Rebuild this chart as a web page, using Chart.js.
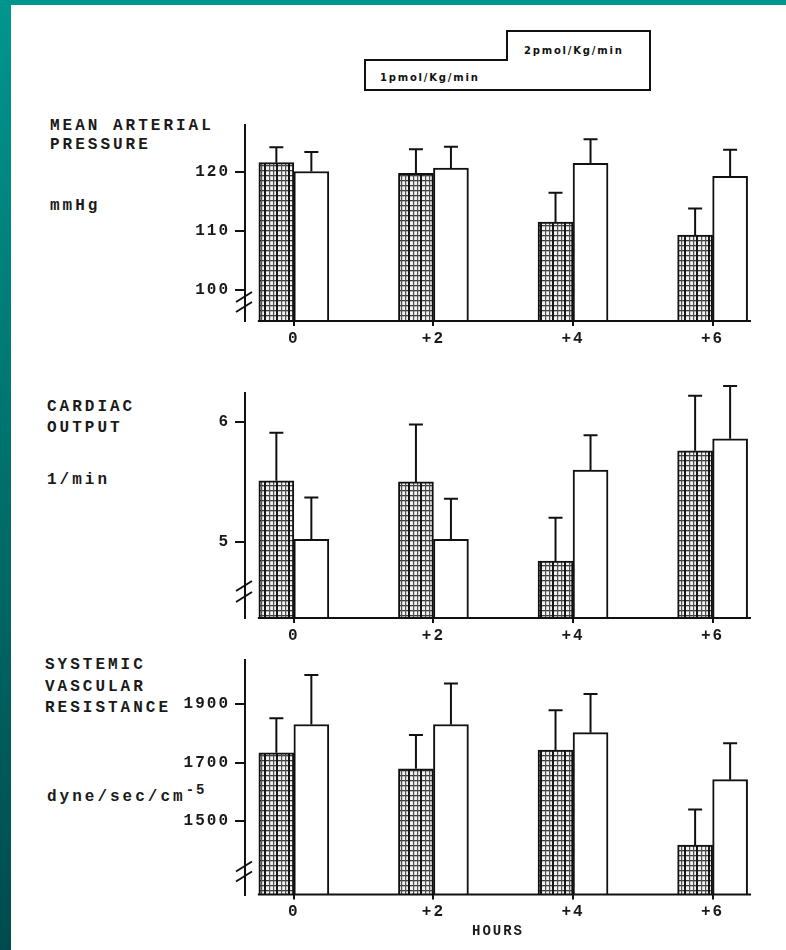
<!DOCTYPE html>
<html>
<head>
<meta charset="utf-8">
<script src="https://cdn.jsdelivr.net/npm/chart.js@4.4.1/dist/chart.umd.min.js"></script>
<style>
  body { margin: 0; width: 786px; height: 950px; overflow: hidden; }
  #bg { position: absolute; left: 0; top: 0; width: 786px; height: 950px;
        background: linear-gradient(180deg, #00968f 0%, #00706c 50%, #004b4d 100%); }
  #paper { position: absolute; left: 11px; top: 5px; width: 775px; height: 945px; background: #ffffff; }
  canvas { position: absolute; left: 0; }
  .lbl { position: absolute; font-family: "Liberation Mono", "DejaVu Sans Mono", monospace;
         font-size: 16px; font-weight: bold; letter-spacing: 3px; color: #1a1a1a; white-space: pre; }
  .lbl sup { font-size: 14px; vertical-align: 7px; line-height: 0; letter-spacing: 2px; }
</style>
</head>
<body>
<div id="bg"></div>
<div id="paper"></div>

<svg style="position:absolute;left:0;top:0" width="786" height="100">
  <path d="M365 60 H507 V31 H650 V90 H365 Z" fill="none" stroke="#111" stroke-width="2"/>
  <text id="leg1" x="380" y="81" font-family="DejaVu Sans" font-weight="bold" font-size="10" letter-spacing="1.8" fill="#111"></text>
  <text id="leg2" x="524" y="54" font-family="DejaVu Sans" font-weight="bold" font-size="10" letter-spacing="1.8" fill="#111"></text>
</svg>

<div class="lbl" style="left:50px;top:117px;line-height:19px">MEAN ARTERIAL
PRESSURE</div>
<div class="lbl" style="left:50px;top:196px;line-height:20px">mmHg</div>

<div class="lbl" style="left:47px;top:397px;line-height:21px">CARDIAC
OUTPUT</div>
<div class="lbl" style="left:47px;top:470px;line-height:20px">1/min</div>

<div class="lbl" style="left:45px;top:655px;line-height:21.5px">SYSTEMIC
VASCULAR
RESISTANCE</div>
<div class="lbl" style="left:47px;top:787px;line-height:20px">dyne/sec/cm<sup>-5</sup></div>

<canvas id="c1" width="786" height="260" style="top:100px"></canvas>
<canvas id="c2" width="786" height="280" style="top:365px"></canvas>
<canvas id="c3" width="786" height="305" style="top:645px"></canvas>

<script>
// ---------- data ----------
const hours = [0, 2, 4, 6];
const hourLabels = ['0', '+2', '+4', '+6'];
const hourRange = [-0.70, 6.55];
const seriesNames = ['1pmol/Kg/min', '2pmol/Kg/min'];
const xTitle = 'HOURS';

// Mean arterial pressure (mmHg)
const mapLow = [121.6, 119.8, 111.5, 109.3];
const mapLowErr = [2.6, 4.1, 5.0, 4.5];
const mapHigh = [120.1, 120.7, 121.5, 119.3];
const mapHighErr = [3.3, 3.6, 4.1, 4.5];
const mapTicks = [100, 110, 120];
const mapRange = [94.7, 128.0];

// Cardiac output (l/min)
const coLow = [5.51, 5.50, 4.84, 5.76];
const coLowErr = [0.40, 0.48, 0.36, 0.46];
const coHigh = [5.02, 5.02, 5.60, 5.86];
const coHighErr = [0.35, 0.34, 0.29, 0.44];
const coTicks = [5, 6];
const coRange = [4.364, 6.24];

// Systemic vascular resistance (dyne/sec/cm-5)
const svrLow = [1734, 1679, 1743, 1418];
const svrLowErr = [118, 116, 137, 122];
const svrHigh = [1831, 1831, 1803, 1642];
const svrHighErr = [169, 140, 132, 125];
const svrTicks = [1500, 1700, 1900];
const svrRange = [1249, 2053];

document.getElementById('leg1').textContent = seriesNames[0];
document.getElementById('leg2').textContent = seriesNames[1];

// ---------- helpers ----------
function makeHatch(ctx) {
  const t = document.createElement('canvas');
  t.width = 12; t.height = 5;
  const g = t.getContext('2d');
  g.fillStyle = '#f2f2f2'; g.fillRect(0, 0, 12, 5);
  g.fillStyle = '#3c3c3c'; g.fillRect(0, 0, 12, 1.3);
  g.fillStyle = '#151515'; g.fillRect(0, 0, 2, 5);
  g.fillStyle = '#505050'; g.fillRect(5, 0, 1.2, 5); g.fillRect(9, 0, 1.2, 5);
  return ctx.createPattern(t, 'repeat');
}

const decor = {
  id: 'decor',
  beforeDraw(chart) { chart.ctx.letterSpacing = '2px'; },
  afterDatasetsDraw(chart, args, opts) {
    const ctx = chart.ctx;
    const y = chart.scales.y;
    const a = chart.chartArea;
    ctx.save();
    ctx.strokeStyle = '#111';
    ctx.lineWidth = 2;
    ctx.lineCap = 'butt';
    chart.data.datasets.forEach((ds, i) => {
      const meta = chart.getDatasetMeta(i);
      meta.data.forEach((bar, j) => {
        const top = y.getPixelForValue(ds.data[j].y + ds.errors[j]);
        ctx.beginPath();
        ctx.moveTo(bar.x, bar.y);
        ctx.lineTo(bar.x, top);
        ctx.moveTo(bar.x - 7, top);
        ctx.lineTo(bar.x + 7, top);
        ctx.stroke();
      });
    });
    // baseline
    const first = chart.getDatasetMeta(0).data[0];
    ctx.beginPath();
    ctx.moveTo(first.x - first.width / 2 - 1, a.bottom);
    ctx.lineTo(a.right, a.bottom);
    ctx.stroke();
    // axis break marks
    opts.breaks.forEach(off => {
      const by = a.bottom - off;
      ctx.beginPath();
      ctx.moveTo(a.left - 9, by + 5);
      ctx.lineTo(a.left + 7, by - 5);
      ctx.stroke();
    });
    ctx.restore();
  }
};

function makeChart(id, low, lowErr, high, highErr, ticks, range, padTop, xHeight, breaks, showTitle) {
  const canvas = document.getElementById(id);
  const ctx = canvas.getContext('2d');
  const tickFont = { family: 'Liberation Mono', size: 16, weight: 'bold' };
  return new Chart(ctx, {
    type: 'bar',
    data: {
      datasets: [
        {
          label: seriesNames[0],
          data: hours.map((h, i) => ({ x: h, y: low[i] })),
          errors: lowErr,
          backgroundColor: makeHatch(ctx),
          borderColor: '#111',
          borderWidth: 2,
          borderSkipped: false,
          barThickness: 35
        },
        {
          label: seriesNames[1],
          data: hours.map((h, i) => ({ x: h, y: high[i] })),
          errors: highErr,
          backgroundColor: '#ffffff',
          borderColor: '#111',
          borderWidth: 2,
          borderSkipped: false,
          barThickness: 35
        }
      ]
    },
    options: {
      responsive: false,
      animation: false,
      events: [],
      layout: { padding: { left: 0, right: 35, top: padTop, bottom: 0 } },
      plugins: {
        legend: { display: false },
        tooltip: { enabled: false },
        decor: { breaks: breaks }
      },
      scales: {
        x: {
          type: 'linear',
          min: hourRange[0],
          max: hourRange[1],
          offset: false,
          grid: { offset: false, display: true, drawOnChartArea: false, drawTicks: true,
                  tickLength: 5, lineWidth: 2, color: '#111' },
          border: { display: false },
          afterBuildTicks: s => { s.ticks = hours.map(v => ({ value: v })); },
          afterFit: s => { s.height = xHeight; },
          ticks: {
            color: '#1a1a1a',
            font: tickFont,
            padding: 3,
            maxRotation: 0,
            autoSkip: false,
            callback: (v) => { const k = hours.indexOf(v); return k >= 0 ? hourLabels[k] : ''; }
          },
          title: {
            display: showTitle,
            text: xTitle,
            color: '#1a1a1a',
            font: { family: 'Liberation Mono', size: 14, weight: 'bold' },
            padding: { top: 0, bottom: 10 }
          }
        },
        y: {
          type: 'linear',
          min: range[0],
          max: range[1],
          beginAtZero: false,
          grid: { display: true, drawOnChartArea: false, drawTicks: true,
                  tickLength: 10, lineWidth: 2, color: '#111' },
          border: { display: true, color: '#111', width: 2 },
          afterBuildTicks: s => { s.ticks = ticks.map(v => ({ value: v })); },
          afterFit: s => { s.width = 245; },
          ticks: {
            color: '#1a1a1a',
            font: tickFont,
            padding: 5,
            callback: v => String(v)
          }
        }
      }
    },
    plugins: [decor]
  });
}

makeChart('c1', mapLow, mapLowErr, mapHigh, mapHighErr, mapTicks, mapRange, 25, 39, [24, 14], false);
makeChart('c2', coLow, coLowErr, coHigh, coHighErr, coTicks, coRange, 28.3, 27, [32, 21], false);
makeChart('c3', svrLow, svrLowErr, svrHigh, svrHighErr, svrTicks, svrRange, 5, 55.5, [28, 18], true);
</script>
</body>
</html>
